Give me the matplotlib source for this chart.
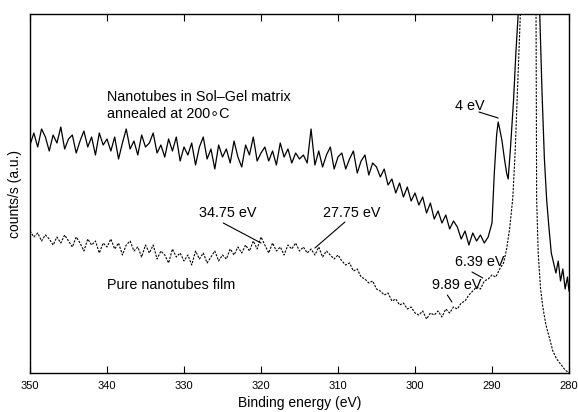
import numpy as np
import matplotlib
matplotlib.use('Agg')
import matplotlib.pyplot as plt

plt.rcParams['font.family'] = ['Liberation Sans', 'DejaVu Sans']

# energy grid of the flat, noisy part (eV)
e_noise = np.arange(350, 290.9, -0.5)

# Sol-Gel sample (solid), arbitrary units
sol_noise = [228, 240, 226, 244, 236, 222, 238, 230, 246, 224, 234,
             238, 220, 232, 242, 226, 236, 218, 240, 228, 234,
             222, 236, 214, 230, 244, 224, 232, 218, 238, 226,
             230, 240, 220, 228, 216, 234, 222, 236, 212, 226,
             218, 230, 208, 226, 236, 214, 224, 204, 228, 216,
             224, 210, 232, 216, 206, 228, 218, 236, 212, 220,
             226, 212, 222, 208, 230, 216, 224, 210, 220, 214,
             218, 210, 244, 208, 222, 206, 218, 226, 204, 216,
             220, 204, 214, 222, 200, 212, 218, 198, 210, 206,
             196, 204, 188, 194, 180, 190, 176, 186, 172, 180,
             168, 176, 160, 170, 154, 162, 150, 158, 144, 152,
             146, 134, 142, 128, 140, 132, 138, 130]
e_sol_peak = [290.5, 290.0, 289.7, 289.4, 289.2, 289.0, 288.7, 288.4, 288.1,
              287.9, 287.6, 287.2, 286.9, 286.6, 286.2, 285.5, 285.0, 284.5,
              284.1, 283.8, 283.5, 283.2, 282.9, 282.6, 282.3, 282.0, 281.7,
              281.4, 281.1, 280.8, 280.5, 280.2, 280.0]
sol_peak = [136, 150, 200, 238, 251, 244, 232, 215, 200,
            194, 225, 273, 320, 359, 450, 700, 900, 700,
            450, 359, 280, 215, 173, 145, 120, 110, 100,
            112, 92, 104, 84, 96, 82]

# pure nanotube film (dotted)
pure_noise = [142, 136, 140, 132, 138, 134, 128, 136, 130, 138, 132,
              126, 136, 130, 122, 134, 128, 132, 120, 130, 126,
              134, 124, 130, 118, 128, 132, 122, 126, 116, 128,
              120, 128, 114, 122, 118, 110, 124, 116, 120, 112,
              118, 108, 122, 114, 120, 110, 116, 122, 112, 118,
              114, 124, 118, 126, 120, 128, 122, 132, 124, 136,
              128, 120, 130, 122, 126, 118, 128, 124, 130, 122,
              126, 120, 124, 118, 126, 116, 122, 118, 114, 118,
              112, 108, 110, 102, 104, 96, 94, 90, 92, 84,
              82, 78, 80, 72, 74, 68, 70, 64, 66, 60,
              58, 62, 54, 60, 58, 62, 56, 64, 60, 66,
              64, 70, 72, 78, 82, 86, 84, 92]
e_pure_peak = [290.5, 290.0, 289.5, 289.0, 288.5, 288.1, 287.7, 287.3, 287.0,
               286.6, 286.3, 286.0, 285.5, 285.0, 284.6, 284.3, 284.2, 284.0,
               283.7, 283.4, 283.0, 282.5, 282.1, 281.6, 281.0, 280.5, 280.0]
pure_peak = [94, 98, 96, 104, 110, 124, 145, 175, 220,
             300, 362, 450, 800, 1100, 800, 400, 173, 120,
             85, 66, 48, 34, 22, 14, 8, 3, 0]

e_sol = np.concatenate([e_noise, e_sol_peak])
sol = np.concatenate([sol_noise, sol_peak])
e_pure = np.concatenate([e_noise, e_pure_peak])
pure = np.concatenate([pure_noise, pure_peak])

fig = plt.figure(figsize=(5.78, 4.12), dpi=100)
ax = fig.add_axes([30/578, 39/412, 539/578, 359/412])

ax.plot(e_sol, sol, color='black', lw=0.9)
ax.plot(e_pure, pure, color='black', lw=0.8, linestyle=(0, (2, 1.2)))

ax.set_xlim(350, 280)
ax.set_ylim(0, 359)
ax.set_xticks([350, 340, 330, 320, 310, 300, 290, 280])
ax.set_yticks([])
ax.tick_params(axis='x', direction='in', top=True, length=5, labelsize=8, pad=6)
for s in ax.spines.values():
    s.set_linewidth(1.0)

ax.set_xlabel('Binding energy (eV)', fontsize=10, labelpad=3)
ax.set_ylabel('counts/s (a.u.)', fontsize=10, labelpad=6)

fs = 10.4
ax.text(340.0, 276, 'Nanotubes in Sol\u2013Gel matrix', fontsize=fs, va='center')
ax.text(340.0, 259, 'annealed at 200\u2218C', fontsize=fs, va='center')
ax.text(340.0, 88, 'Pure nanotubes film', fontsize=fs, va='center')

notes = [('4 eV', 294.8, 267, (291.7, 261), (289.2, 255)),
         ('34.75 eV', 328.05, 160, (324.9, 150), (320.0, 130)),
         ('27.75 eV', 311.95, 160, (309.1, 151), (313.0, 125)),
         ('6.39 eV', 294.8, 111, (292.6, 101), (291.2, 95)),
         ('9.89 eV', 297.8, 88, (295.8, 78), (295.2, 71))]
for txt, tx, ty, p0, p1 in notes:
    ax.text(tx, ty, txt, fontsize=fs, va='center')
    ax.annotate('', xy=p1, xytext=p0,
                arrowprops=dict(arrowstyle='-', lw=0.8, shrinkA=0, shrinkB=0))

fig.savefig('out.png', dpi=100)
